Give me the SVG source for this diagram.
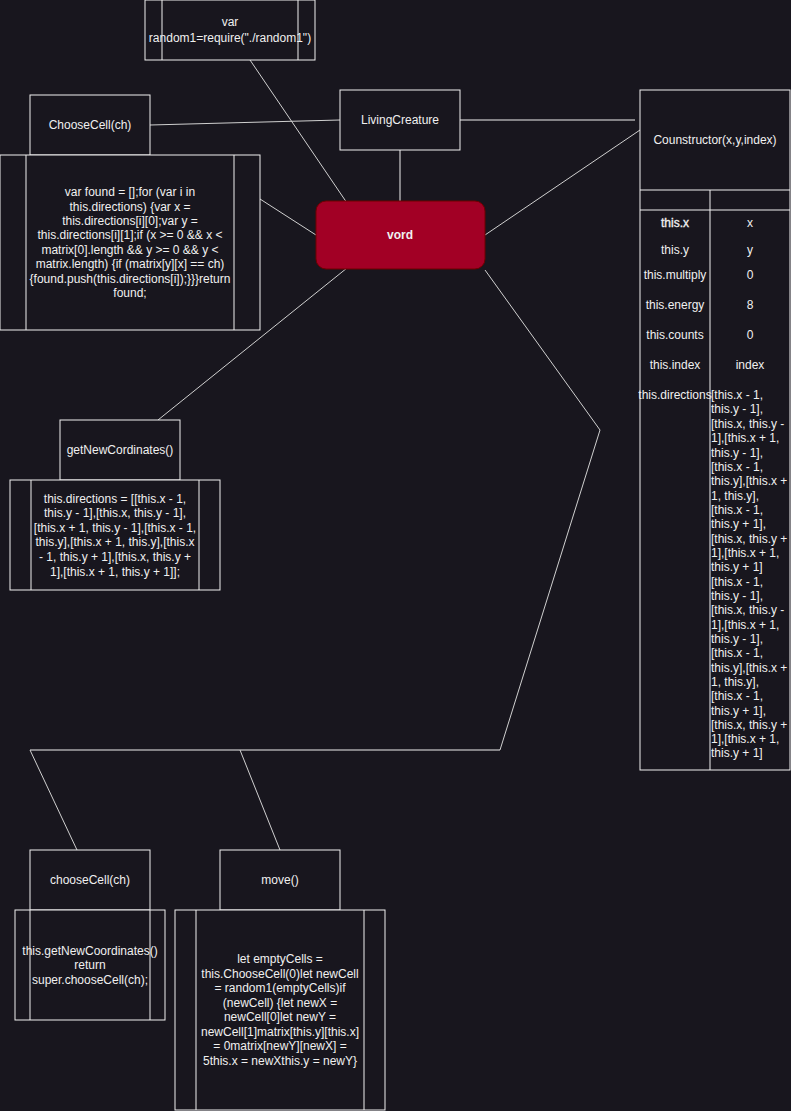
<svg xmlns="http://www.w3.org/2000/svg" width="791" height="1111" viewBox="0 0 791 1111">
<style>
.bx{fill:#18161e;stroke:#f0f0f0;stroke-width:1}
.ln{fill:none;stroke:#f0f0f0;stroke-width:1}
.cn{fill:none;stroke:#d0d0d0;stroke-width:1}
text{font-family:"Liberation Sans",Arial,sans-serif;font-size:12px;fill:#f0f0f0}
.c{text-anchor:middle}
</style>
<rect width="791" height="1111" fill="#18161e"/>
<g id="connectors">
<path class="cn" d="M250,60 L347,203"/>
<path class="cn" d="M150,125 L340,120"/>
<path class="cn" d="M260,199 L316,235"/>
<path class="ln" d="M400,150 L400,201"/>
<path class="ln" d="M460,120 L635,120"/>
<path class="cn" d="M485,235 L640,130"/>
<path class="cn" d="M347,268 L158,420"/>
<path class="cn" d="M485,270 L600,430 L500,750"/>
<path class="ln" d="M30,750 L500,750"/>
<path class="cn" d="M30,750 L77,850"/>
<path class="cn" d="M240,750 L280,850"/>
</g>
<g id="require">
<rect class="bx" x="145" y="0" width="170" height="60"/>
<path class="ln" d="M162,0 V60 M298,0 V60"/>
<text class="c" x="230" y="26">var</text>
<text class="c" x="230" y="42">random1=require("./random1")</text>
</g>
<g id="chooseCell1">
<rect class="bx" x="30" y="95" width="120" height="60"/>
<text class="c" x="90" y="129">ChooseCell(ch)</text>
</g>
<g id="chooseCell1-code">
<rect class="bx" x="0" y="155" width="260" height="175"/>
<path class="ln" d="M26,155 V330 M234,155 V330"/>
<text class="c" x="130" y="196">var found = [];for (var i in</text>
<text class="c" x="130" y="211">this.directions) {var x =</text>
<text class="c" x="130" y="225">this.directions[i][0];var y =</text>
<text class="c" x="130" y="239">this.directions[i][1];if (x &gt;= 0 &amp;&amp; x &lt;</text>
<text class="c" x="130" y="254">matrix[0].length &amp;&amp; y &gt;= 0 &amp;&amp; y &lt;</text>
<text class="c" x="130" y="268">matrix.length) {if (matrix[y][x] == ch)</text>
<text class="c" x="130" y="283">{found.push(this.directions[i]);}}}return</text>
<text class="c" x="130" y="297">found;</text>
</g>
<g id="livingCreature">
<rect class="bx" x="340" y="90" width="120" height="60"/>
<text class="c" x="400" y="124">LivingCreature</text>
</g>
<g id="vord">
<rect x="316" y="201" width="169" height="68" rx="10" fill="#a20025" stroke="#6f0000"/>
<text class="c" x="400" y="239" font-weight="bold">vord</text>
</g>
<g id="constructor">
<rect class="bx" x="640" y="90" width="150" height="680"/>
<path class="ln" d="M640,190 H790 M640,210 H790 M710,190 V770"/>
<text class="c" x="715" y="144">Counstructor(x,y,index)</text>
<text class="c" x="675" y="227" stroke="#f0f0f0" stroke-width="0.35">this.x</text><text class="c" x="750" y="227">x</text>
<text class="c" x="675" y="254">this.y</text><text class="c" x="750" y="254">y</text>
<text class="c" x="675" y="279">this.multiply</text><text class="c" x="750" y="279">0</text>
<text class="c" x="675" y="309">this.energy</text><text class="c" x="750" y="309">8</text>
<text class="c" x="675" y="339">this.counts</text><text class="c" x="750" y="339">0</text>
<text class="c" x="675" y="369">this.index</text><text class="c" x="750" y="369">index</text>
<text class="c" x="675" y="399">this.directions</text>
<text x="711" y="399">[this.x - 1,</text>
<text x="711" y="413">this.y - 1],</text>
<text x="711" y="428">[this.x, this.y -</text>
<text x="711" y="442">1],[this.x + 1,</text>
<text x="711" y="457">this.y - 1],</text>
<text x="711" y="471">[this.x - 1,</text>
<text x="711" y="485">this.y],[this.x +</text>
<text x="711" y="500">1, this.y],</text>
<text x="711" y="514">[this.x - 1,</text>
<text x="711" y="528">this.y + 1],</text>
<text x="711" y="543">[this.x, this.y +</text>
<text x="711" y="557">1],[this.x + 1,</text>
<text x="711" y="571">this.y + 1]</text>
<text x="711" y="586">[this.x - 1,</text>
<text x="711" y="600">this.y - 1],</text>
<text x="711" y="614">[this.x, this.y -</text>
<text x="711" y="629">1],[this.x + 1,</text>
<text x="711" y="643">this.y - 1],</text>
<text x="711" y="657">[this.x - 1,</text>
<text x="711" y="672">this.y],[this.x +</text>
<text x="711" y="686">1, this.y],</text>
<text x="711" y="700">[this.x - 1,</text>
<text x="711" y="715">this.y + 1],</text>
<text x="711" y="729">[this.x, this.y +</text>
<text x="711" y="743">1],[this.x + 1,</text>
<text x="711" y="757">this.y + 1]</text>
</g>
<g id="getNewCordinates">
<rect class="bx" x="60" y="420" width="120" height="60"/>
<text class="c" x="120" y="454">getNewCordinates()</text>
</g>
<g id="getNewCordinates-code">
<rect class="bx" x="10" y="480" width="210" height="110"/>
<path class="ln" d="M31,480 V590 M199,480 V590"/>
<text class="c" x="115" y="503">this.directions = [[this.x - 1,</text>
<text class="c" x="115" y="517">this.y - 1],[this.x, this.y - 1],</text>
<text class="c" x="115" y="532">[this.x + 1, this.y - 1],[this.x - 1,</text>
<text class="c" x="115" y="546">this.y],[this.x + 1, this.y],[this.x</text>
<text class="c" x="115" y="561">- 1, this.y + 1],[this.x, this.y +</text>
<text class="c" x="115" y="576">1],[this.x + 1, this.y + 1]];</text>
</g>
<g id="chooseCell2">
<rect class="bx" x="30" y="850" width="120" height="60"/>
<text class="c" x="90" y="884">chooseCell(ch)</text>
</g>
<g id="chooseCell2-code">
<rect class="bx" x="15" y="910" width="150" height="110"/>
<path class="ln" d="M30,910 V1020 M150,910 V1020"/>
<text class="c" x="90" y="955">this.getNewCoordinates()</text>
<text class="c" x="90" y="969">return</text>
<text class="c" x="90" y="984">super.chooseCell(ch);</text>
</g>
<g id="move">
<rect class="bx" x="220" y="850" width="120" height="60"/>
<text class="c" x="280" y="884">move()</text>
</g>
<g id="move-code">
<rect class="bx" x="175" y="910" width="210" height="200"/>
<path class="ln" d="M196,910 V1110 M364,910 V1110"/>
<text class="c" x="280" y="963">let emptyCells =</text>
<text class="c" x="280" y="978">this.ChooseCell(0)let newCell</text>
<text class="c" x="280" y="992">= random1(emptyCells)if</text>
<text class="c" x="280" y="1007">(newCell) {let newX =</text>
<text class="c" x="280" y="1021">newCell[0]let newY =</text>
<text class="c" x="280" y="1036">newCell[1]matrix[this.y][this.x]</text>
<text class="c" x="280" y="1050">= 0matrix[newY][newX] =</text>
<text class="c" x="280" y="1065">5this.x = newXthis.y = newY}</text>
</g>
</svg>
